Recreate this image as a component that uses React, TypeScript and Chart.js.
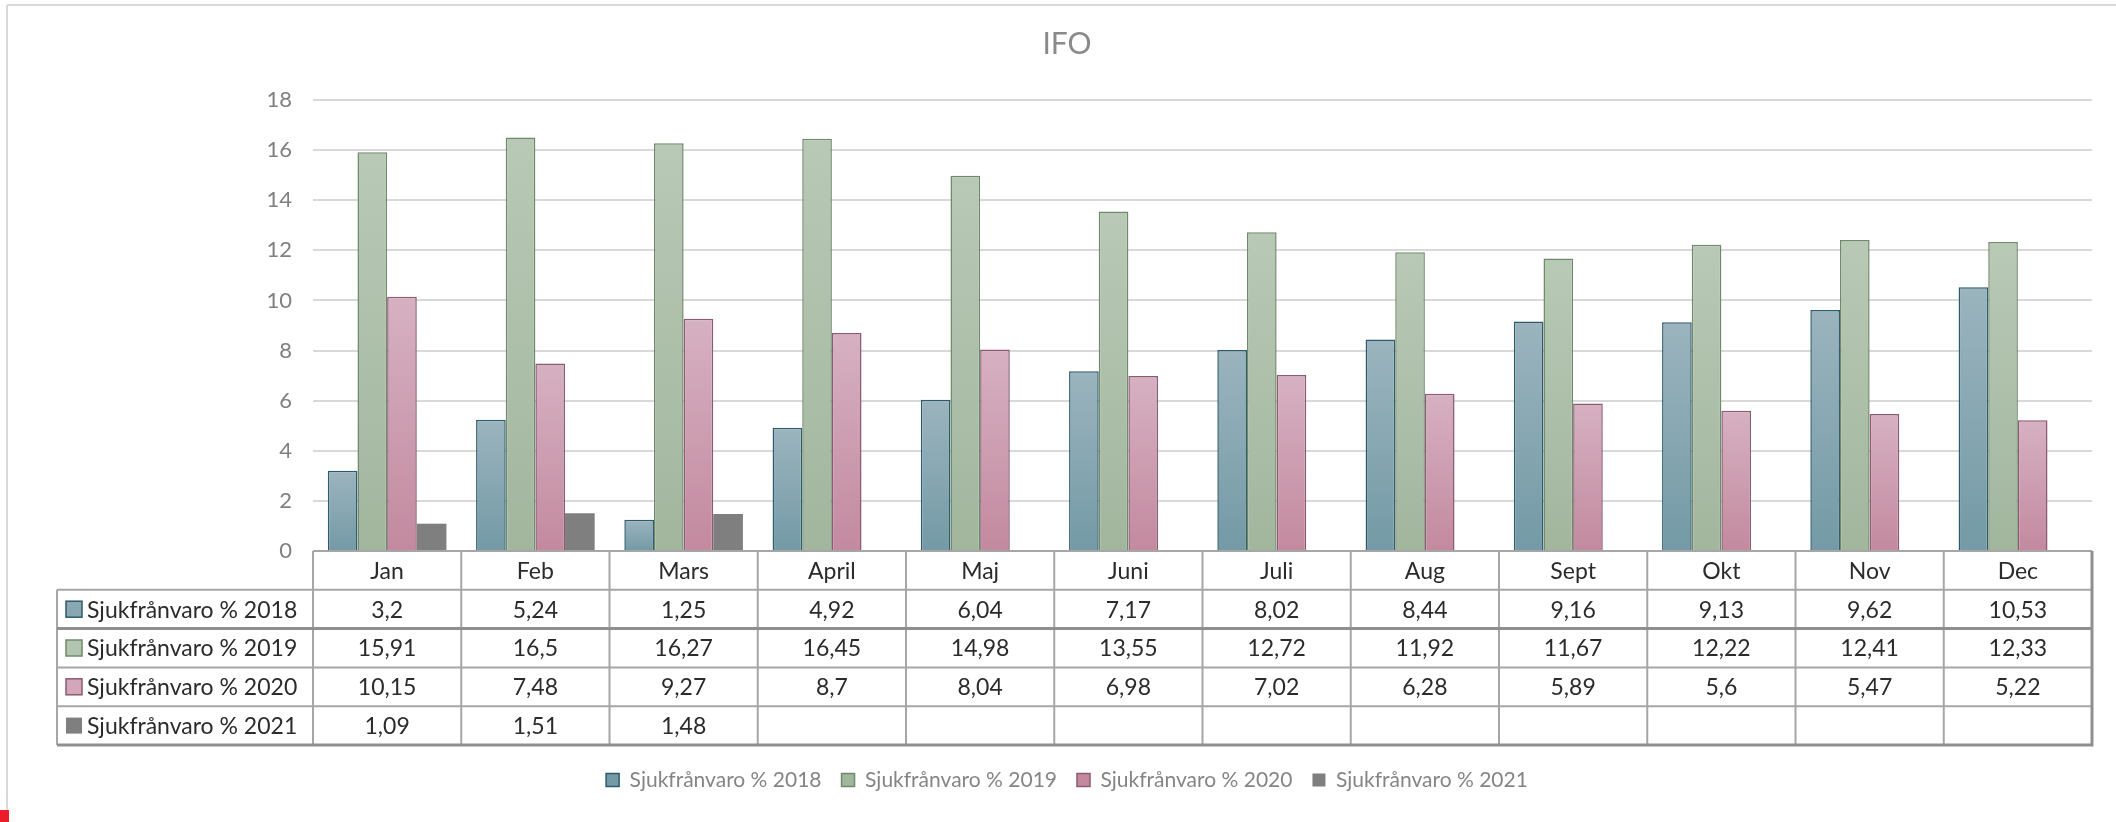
import React, { useEffect, useRef } from 'react';
import { Chart, registerables } from 'chart.js';

Chart.register(...registerables);

const months = ['Jan', 'Feb', 'Mars', 'April', 'Maj', 'Juni', 'Juli', 'Aug', 'Sept', 'Okt', 'Nov', 'Dec'];
const sjuk2018 = [3.2, 5.24, 1.25, 4.92, 6.04, 7.17, 8.02, 8.44, 9.16, 9.13, 9.62, 10.53];
const sjuk2019 = [15.91, 16.5, 16.27, 16.45, 14.98, 13.55, 12.72, 11.92, 11.67, 12.22, 12.41, 12.33];
const sjuk2020 = [10.15, 7.48, 9.27, 8.7, 8.04, 6.98, 7.02, 6.28, 5.89, 5.6, 5.47, 5.22];
const sjuk2021: (number | null)[] = [1.09, 1.51, 1.48, null, null, null, null, null, null, null, null, null];
const seriesLabels = ['Sjukfrånvaro % 2018', 'Sjukfrånvaro % 2019', 'Sjukfrånvaro % 2020', 'Sjukfrånvaro % 2021'];
const chartTitle = 'IFO';
const yMin = 0;
const yMax = 18;
const yStep = 2;

const FONT = 'Lato, "Liberation Sans", sans-serif';

type Style = { solid: string; top: string; bottom: string; border: string; borderWidth: number };
const styles: Style[] = [
  { solid: '#8aa8b3', top: '#9bb4be', bottom: '#739aa6', border: '#2d5b6a', borderWidth: 1.5 },
  { solid: '#b3c4af', top: '#b8c9b5', bottom: '#a2b69e', border: '#6f8a6b', borderWidth: 1.5 },
  { solid: '#d2a7b9', top: '#d6b1c1', bottom: '#c3899f', border: '#8c5a73', borderWidth: 1.5 },
  { solid: '#7f7f7f', top: '#7f7f7f', bottom: '#7f7f7f', border: '#7a7a7a', borderWidth: 0 },
];

const makeBg = (s: Style) => (ctx: any) => {
  if (ctx.type !== 'data' || ctx.raw == null) return s.solid;
  const chart = ctx.chart;
  const y = chart.scales && chart.scales.y;
  if (!y) return s.solid;
  const top = y.getPixelForValue(ctx.raw);
  const base = y.getPixelForValue(0);
  if (!isFinite(top) || !isFinite(base) || base - top < 1) return s.solid;
  const g = chart.ctx.createLinearGradient(0, top, 0, base);
  g.addColorStop(0, s.top);
  g.addColorStop(1, s.bottom);
  return g;
};

const ROW_H = 38.8;
const TABLE_LEFT = 57;
const PAD_LEFT = 42;

const tablePlugin = {
  id: 'dataTable',
  beforeDraw(chart: any) {
    const { ctx, width, height } = chart;
    ctx.save();
    ctx.fillStyle = '#ffffff';
    ctx.fillRect(0, 0, width, height);
    ctx.strokeStyle = '#d9d9d9';
    ctx.lineWidth = 2;
    ctx.beginPath();
    ctx.moveTo(7, 5);
    ctx.lineTo(width, 5);
    ctx.moveTo(7, 5);
    ctx.lineTo(7, height);
    ctx.stroke();
    ctx.fillStyle = '#ec1c2a';
    ctx.fillRect(0, 810, 9, 12);
    ctx.restore();
  },
  afterDraw(chart: any) {
    const { ctx, chartArea } = chart;
    const xs = chart.scales.x;
    const n = months.length;
    const half = (xs.getPixelForValue(1) - xs.getPixelForValue(0)) / 2;
    const top = chartArea.bottom;
    const datasets = chart.data.datasets;
    const nRows = datasets.length;
    const bottom = top + ROW_H * (nRows + 1);
    const right = xs.getPixelForValue(n - 1) + half;
    const left = xs.getPixelForValue(0) - half;

    ctx.save();
    ctx.font = `23px ${FONT}`;
    ctx.fillStyle = '#2b2b2b';
    ctx.textAlign = 'center';
    ctx.textBaseline = 'middle';
    months.forEach((m, i) => ctx.fillText(m, xs.getPixelForValue(i), top + ROW_H / 2 + 1));
    datasets.forEach((ds: any, r: number) => {
      const cy = top + ROW_H * (r + 1.5) + 1;
      ctx.fillStyle = '#2b2b2b';
      ctx.textAlign = 'center';
      ds.data.forEach((v: number | null, i: number) => {
        if (v == null) return;
        ctx.fillText(String(v).replace('.', ','), xs.getPixelForValue(i), cy);
      });
      const s = styles[r];
      ctx.fillStyle = s.solid;
      ctx.fillRect(TABLE_LEFT + 9, cy - 9, 16, 16);
      if (s.borderWidth > 0) {
        ctx.strokeStyle = s.border;
        ctx.lineWidth = 1.5;
        ctx.strokeRect(TABLE_LEFT + 9, cy - 9, 16, 16);
      }
      ctx.fillStyle = '#2b2b2b';
      ctx.textAlign = 'left';
      ctx.fillText(ds.label, TABLE_LEFT + 30, cy, left - TABLE_LEFT - 33);
    });

    ctx.strokeStyle = '#a6a6a6';
    ctx.lineWidth = 2;
    ctx.beginPath();
    ctx.moveTo(left, top);
    ctx.lineTo(right, top);
    for (let k = 1; k <= nRows; k++) {
      if (k === 2) continue;
      const y = top + ROW_H * k;
      ctx.moveTo(TABLE_LEFT, y);
      ctx.lineTo(right, y);
    }
    for (let i = 0; i < n; i++) {
      const x = xs.getPixelForValue(i) - half;
      ctx.moveTo(x, top);
      ctx.lineTo(x, bottom);
    }
    ctx.moveTo(TABLE_LEFT, top + ROW_H);
    ctx.lineTo(TABLE_LEFT, bottom);
    ctx.stroke();

    ctx.strokeStyle = '#8f8f8f';
    ctx.lineWidth = 3;
    ctx.beginPath();
    ctx.moveTo(TABLE_LEFT, top + ROW_H * 2);
    ctx.lineTo(right, top + ROW_H * 2);
    ctx.moveTo(TABLE_LEFT, bottom);
    ctx.lineTo(right + 1.5, bottom);
    ctx.moveTo(right, top);
    ctx.lineTo(right, bottom);
    ctx.stroke();
    ctx.restore();
  },
};

export default function App() {
  const ref = useRef<HTMLCanvasElement | null>(null);

  useEffect(() => {
    if (!ref.current) return;
    const series = [sjuk2018, sjuk2019, sjuk2020, sjuk2021];
    const chart = new Chart(ref.current, {
      type: 'bar',
      data: {
        labels: months,
        datasets: series.map((d, i) => ({
          label: seriesLabels[i],
          data: d,
          backgroundColor: makeBg(styles[i]),
          borderColor: styles[i].border,
          borderWidth: styles[i].borderWidth,
          categoryPercentage: 0.8,
          barPercentage: 1.0,
        })),
      },
      options: {
        responsive: false,
        animation: false,
        devicePixelRatio: 1,
        layout: { padding: { left: PAD_LEFT, right: 24, top: 0, bottom: 21.5 } },
        plugins: {
          title: {
            display: true,
            text: chartTitle,
            color: '#8a8a8a',
            font: { family: FONT, size: 30, weight: 'normal' },
            padding: { top: 26, bottom: 38 },
          },
          legend: {
            display: true,
            position: 'bottom',
            labels: {
              color: '#858585',
              font: { family: FONT, size: 21 },
              boxWidth: 13,
              boxHeight: 13,
              padding: 20,
            },
          },
          tooltip: { enabled: false },
        },
        scales: {
          x: {
            type: 'category',
            grid: { display: false },
            border: { display: false },
            ticks: { display: false },
            afterFit: (scale: any) => {
              scale.height = 198.5;
            },
          },
          y: {
            min: yMin,
            max: yMax,
            ticks: {
              stepSize: yStep,
              color: '#808080',
              padding: 21,
              font: { family: FONT, size: 22 },
            },
            grid: {
              drawTicks: false,
              lineWidth: 2,
              color: (c: any) => (c.tick && c.tick.value === 0 ? 'rgba(0,0,0,0)' : '#d9d9d9'),
            },
            border: { display: false },
            afterFit: (scale: any) => {
              scale.width = 313 - PAD_LEFT;
            },
          },
        },
      },
      plugins: [tablePlugin],
    });
    return () => chart.destroy();
  }, []);

  return (
    <div style={{ position: 'absolute', left: 0, top: 0, width: 2116, height: 822, background: '#fff' }}>
      <canvas ref={ref} width={2116} height={822} style={{ width: 2116, height: 822, display: 'block' }} />
    </div>
  );
}
